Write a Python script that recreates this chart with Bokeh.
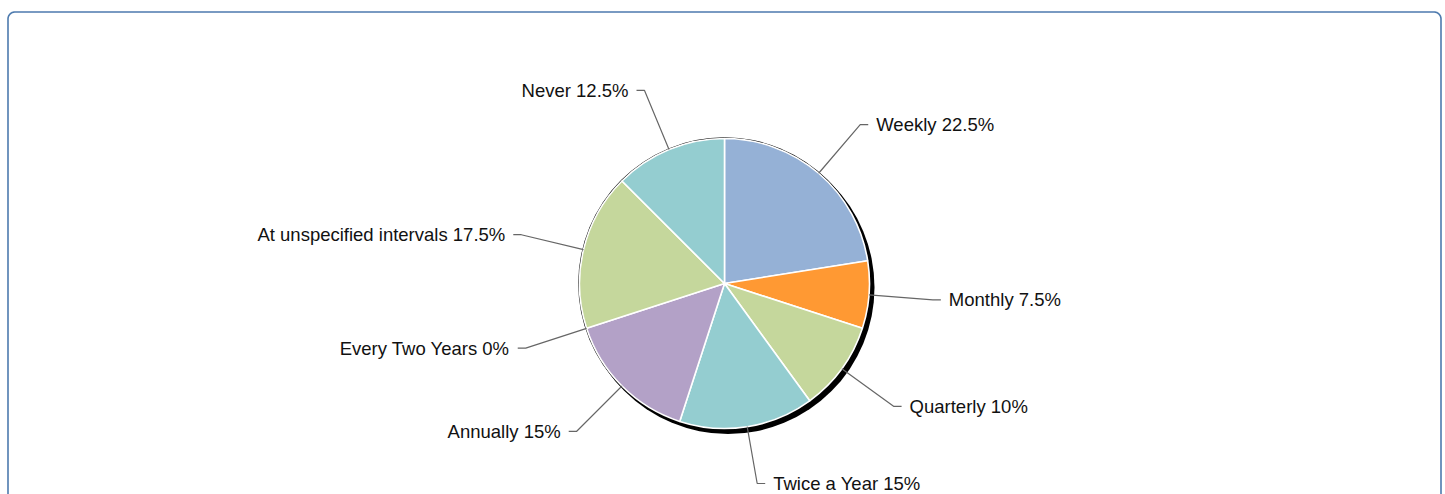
import numpy as np
from bokeh.plotting import figure
from bokeh.models import ColumnDataSource, Range1d
from bokeh.core.properties import value
from bokeh.embed import file_html
from bokeh.resources import INLINE

# ---- data ----
categories = ["Weekly", "Monthly", "Quarterly", "Twice a Year", "Annually",
              "Every Two Years", "At unspecified intervals", "Never"]
percents = [22.5, 7.5, 10, 15, 15, 0, 17.5, 12.5]
colors = ["#95b1d6", "#ff9933", "#c5d79c", "#94cdd0", "#b3a1c7",
          "#c5d79c", "#c5d79c", "#94cdd0"]

# ---- layout (screen-pixel coordinates inside the figure) ----
W, H = 1445, 494
CX, CY, R = 724, 211, 145
ELBOW_R = 209
FONT = "Liberation Sans"
MIN_LABEL_Y = 11  # keep labels inside the canvas

p = figure(width=W, height=H, output_backend="svg", toolbar_location=None,
           x_range=Range1d(0, W), y_range=Range1d(0, H), min_border=0)
p.axis.visible = False
p.grid.visible = False
p.outline_line_color = None
p.background_fill_color = "white"

# frame (rounded rectangle, open at the bottom)
fx0, fx1, fy_top, fr = 7.5, 1440.5, 482.5, 7.0
t = np.linspace(0, np.pi / 2, 20)
left_corner_x = fx0 + fr - fr * np.cos(t)
left_corner_y = fy_top - fr + fr * np.sin(t)
right_corner_x = fx1 - fr + fr * np.sin(t)
right_corner_y = fy_top - fr + fr * np.cos(t)
frame_x = np.concatenate([[fx0], left_corner_x, right_corner_x, [fx1]])
frame_y = np.concatenate([[-10], left_corner_y, right_corner_y, [-10]])
p.line(frame_x, frame_y, line_color="#4d7aae", line_width=1.6)

# pie geometry
vals = np.array(percents, dtype=float)
frac = vals / vals.sum()
cum_end = np.cumsum(frac)
cum_start = cum_end - frac
start_a = np.pi / 2 - cum_start * 2 * np.pi
end_a = np.pi / 2 - cum_end * 2 * np.pi
mid = np.pi / 2 - (cum_start + cum_end) / 2 * 2 * np.pi

# shadow / outline
p.circle(x=[CX], y=[CY], radius=R + 1.3, fill_color="black", line_color=None)
p.circle(x=[CX + 3.5], y=[CY - 4], radius=R + 1.5, fill_color="black", line_color=None)

nz = vals > 0
src = ColumnDataSource(dict(
    start=start_a[nz], end=end_a[nz], color=[c for c, k in zip(colors, nz) if k]))
p.wedge(x=CX, y=CY, radius=R, start_angle="start", end_angle="end",
        direction="clock", fill_color="color", line_color="white",
        line_width=1.6, source=src)

# leader lines and labels
def fmt(v):
    return ("%g" % v) + "%"

for name, v, a in zip(categories, percents, mid):
    ex, ey = CX + R * np.cos(a), CY + R * np.sin(a)
    kx, ky = CX + ELBOW_R * np.cos(a), CY + ELBOW_R * np.sin(a)
    ky = max(ky, MIN_LABEL_Y)
    right = np.cos(a) >= 0
    hx = kx + (8 if right else -8)
    p.line([ex, kx, hx], [ey, ky, ky], line_color="#666666", line_width=1.2)
    tx = kx + (16 if right else -16)
    p.text(x=[tx], y=[ky], text=[f"{name} {fmt(v)}"],
           text_font=value(FONT), text_font_size="18.5px", text_color="#111111",
           text_align="left" if right else "right", text_baseline="middle")

open("out.html", "w").write(file_html(p, INLINE))
